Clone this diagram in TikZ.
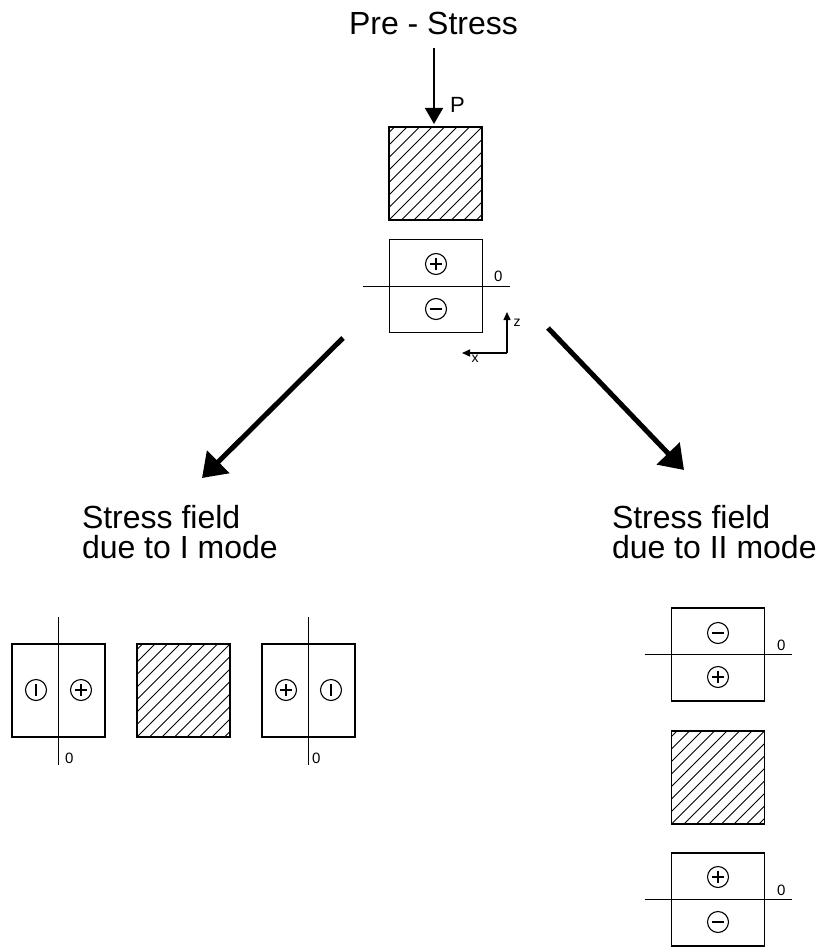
\documentclass[tikz,border=0pt]{standalone}
\usepackage{fontspec}
\setmainfont{Liberation Sans}
\usetikzlibrary{arrows.meta}

\begin{document}
\begin{tikzpicture}[x=1pt,y=-1pt,
  every node/.style={inner sep=0pt, outer sep=0pt},
  big/.style={font=\fontsize{32}{38}\selectfont},
  zero/.style={font=\fontsize{15}{18}\selectfont},
  box/.style={draw, line width=1.5pt, minimum width=93pt, minimum height=93pt},
  hatchbox/.style={box, path picture={
      \foreach \k in {-8,...,8}{
        \draw[line width=0.9pt] ([xshift=\k*12.5pt]path picture bounding box.south west) -- ++(110pt,110pt);}}},
  sign/.style={circle, draw, line width=1.1pt, minimum size=21pt},
  plussign/.style={sign, path picture={
      \draw[line width=1.1pt] ([xshift=-6pt]path picture bounding box.center) -- ++(12pt,0pt)
                               ([yshift=-6pt]path picture bounding box.center) -- ++(0pt,12pt);}},
  minussign/.style={sign, path picture={
      \draw[line width=1.1pt] ([xshift=-6pt]path picture bounding box.center) -- ++(12pt,0pt);}},
  barsign/.style={sign, path picture={
      \draw[line width=1.1pt] ([yshift=-6pt]path picture bounding box.center) -- ++(0pt,12pt);}},
  zeroline/.style={line width=1pt},
  bigarrow/.style={line width=5pt, -{Triangle[length=23pt,width=31pt]}},
  axisarrow/.style={line width=1.3pt, -{Triangle[length=8pt,width=7pt]}}
]
\useasboundingbox (0,0) rectangle (828,947);

% ---- pre-stress state ----
\node[big, anchor=base west] (title) at (349,35) {Pre - Stress};
\node[hatchbox] (top) at (435.5,173.5) {};
\coordinate (pstart) at (434,48);
\draw[line width=1.5pt, -{Triangle[length=16pt,width=18pt]}, shorten >=3pt] (pstart) -- (pstart |- top.north);
\node[anchor=base west, font=\fontsize{22}{26}\selectfont] (plabel) at (450,113) {P};

\node[box] (pre) at (436,286) {};
\draw[zeroline] ([xshift=-27pt]pre.west) -- ([xshift=27pt]pre.east);
\node[plussign]  (preplus)  at (436,264) {};
\node[minussign] (preminus) at (436,309) {};
\node[zero, anchor=base west] (prezero) at (494,281) {0};

% coordinate axes
\coordinate (ax) at (507,353);
\coordinate (zend) at (507,312);
\coordinate (xend) at (462,353);
\draw[axisarrow] (ax) -- (zend);
\draw[axisarrow] (ax) -- (xend);
\node[font=\fontsize{14}{16}\selectfont] (zlab) at (517,323) {z};
\node[font=\fontsize{14}{16}\selectfont] (xlab) at (475,359) {x};

% ---- branching arrows ----
\coordinate (la) at (343,338);
\coordinate (lb) at (202,478);
\coordinate (ra) at (548,328);
\coordinate (rb) at (684,470);
\draw[bigarrow] (la) -- (lb);
\draw[bigarrow] (ra) -- (rb);

% ---- mode I ----
\node[big, anchor=base west] (lhead1) at (82,528) {Stress field};
\node[big, anchor=base west] (lhead2) at (82,558) {due to I mode};

\node[box] (l1) at (58.5,690.5) {};
\draw[zeroline] ([yshift=27pt]l1.north) -- ([yshift=-28pt]l1.south);
\node[barsign]  (l1a) at (36,690) {};
\node[plussign] (l1b) at (81,690) {};
\node[zero, anchor=base west] (l1zero) at (65,763) {0};

\node[hatchbox] (l2) at (183.5,690.5) {};

\node[box] (l3) at (308.5,690.5) {};
\draw[zeroline] ([yshift=27pt]l3.north) -- ([yshift=-28pt]l3.south);
\node[plussign] (l3a) at (286,690) {};
\node[barsign]  (l3b) at (331,690) {};
\node[zero, anchor=base west] (l3zero) at (312,763) {0};

% ---- mode II ----
\node[big, anchor=base west] (rhead1) at (612,528) {Stress field};
\node[big, anchor=base west] (rhead2) at (612,558) {due to II mode};

\node[box] (r1) at (718,654.5) {};
\draw[zeroline] ([xshift=-27pt]r1.west) -- ([xshift=27pt]r1.east);
\node[minussign] (r1a) at (718,633) {};
\node[plussign]  (r1b) at (718,677) {};
\node[zero, anchor=base west] (r1zero) at (777,650) {0};

\node[hatchbox] (r2) at (718,777.5) {};

\node[box] (r3) at (718,899.5) {};
\draw[zeroline] ([xshift=-27pt]r3.west) -- ([xshift=27pt]r3.east);
\node[plussign]  (r3a) at (718,877) {};
\node[minussign] (r3b) at (718,922) {};
\node[zero, anchor=base west] (r3zero) at (777,895) {0};
\end{tikzpicture}
\end{document}
